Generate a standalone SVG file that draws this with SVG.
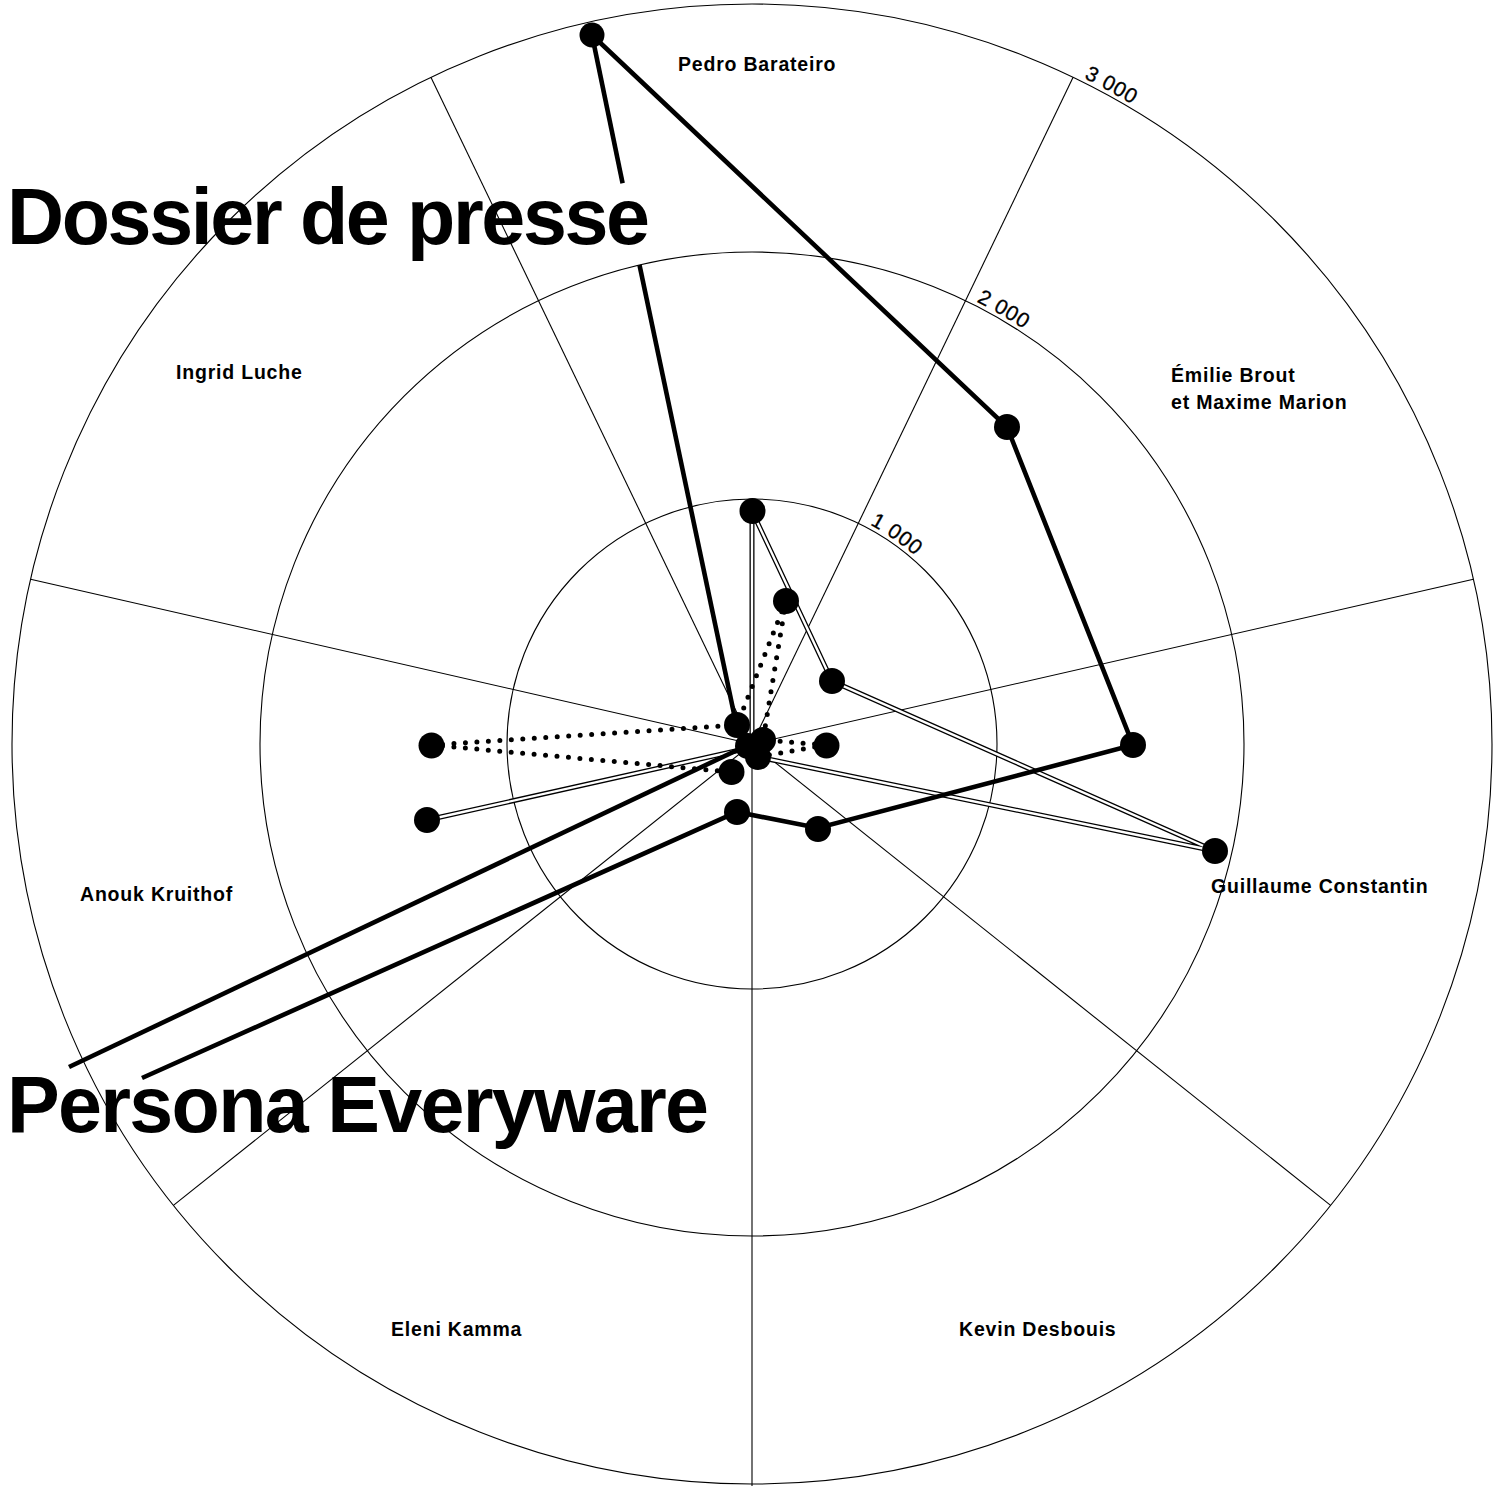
<svg xmlns="http://www.w3.org/2000/svg" width="1504" height="1486" viewBox="0 0 1504 1486">
<style>
.grid{fill:none;stroke:#000;stroke-width:1.1}
.thick{fill:none;stroke:#000;stroke-width:4.6;stroke-linecap:butt}
.dblo{fill:none;stroke:#000;stroke-width:5}
.dbli{fill:none;stroke:#fff;stroke-width:2.4}
.dot{fill:none;stroke:#000;stroke-width:5;stroke-linecap:round;stroke-dasharray:0 11.5}
.pt{fill:#000}
.lab{font-family:"Liberation Sans",Arial,sans-serif;font-weight:700;font-size:19.5px;letter-spacing:0.8px;fill:#000}
.scale{font-family:"Liberation Sans",Arial,sans-serif;font-size:21px;letter-spacing:0.6px;fill:#000;stroke:#000;stroke-width:0.3}
.title{font-family:"Liberation Sans",Arial,sans-serif;font-weight:700;font-size:79px;fill:#000}
</style>
<defs>
<path id="a1" d="M860,519.7 A249,249 0 0 1 986,658.8"/>
<path id="a2" d="M967.2,297.1 A496,496 0 0 1 1181.5,496"/>
<path id="a3" d="M1074.8,73.7 A744,744 0 0 1 1321.9,265.8"/>
</defs>
<rect width="1504" height="1486" fill="#fff"/>
<g id="grid">
<circle class="grid" cx="752" cy="744" r="245"/>
<circle class="grid" cx="752" cy="744" r="492"/>
<circle class="grid" cx="752" cy="744" r="740"/>
<line class="grid" x1="752" y1="744" x2="1073.1" y2="77.3"/>
<line class="grid" x1="752" y1="744" x2="1473.4" y2="579.3"/>
<line class="grid" x1="752" y1="744" x2="1330.6" y2="1205.4"/>
<line class="grid" x1="752" y1="744" x2="752" y2="1486"/>
<line class="grid" x1="752" y1="744" x2="173.4" y2="1205.4"/>
<line class="grid" x1="752" y1="744" x2="30.6" y2="579.3"/>
<line class="grid" x1="752" y1="744" x2="430.9" y2="77.3"/>
</g>
<g id="scale-labels">
<text class="scale"><textPath href="#a1" startOffset="11">1 000</textPath></text>
<text class="scale"><textPath href="#a2" startOffset="10">2 000</textPath></text>
<text class="scale"><textPath href="#a3" startOffset="10">3 000</textPath></text>
</g>
<g id="connectors">
<g id="series-double">
<polyline class="dblo" points="752,511 752,745"/>
<polyline class="dblo" points="752,511 832,681 1215,851 758,757"/>
<polyline class="dblo" points="427,820 749,748"/>
<polyline class="dbli" points="752,511 752,745"/>
<polyline class="dbli" points="752,511 832,681 1215,851 758,757"/>
<polyline class="dbli" points="427,820 749,748"/>
</g>
<g id="series-dotted">
<line class="dot" x1="786" y1="601" x2="737" y2="725"/>
<line class="dot" x1="786" y1="601" x2="763" y2="740"/>
<line class="dot" x1="826" y1="745" x2="763" y2="740"/>
<line class="dot" x1="826" y1="745" x2="758" y2="757"/>
<line class="dot" x1="431" y1="745" x2="737" y2="725"/>
<line class="dot" x1="431" y1="745" x2="731" y2="772"/>
</g>
<g id="series-thick">
<polyline class="thick" points="592,35 1007,427 1133,745 818,828 737,812 142,1078"/>
<line class="thick" x1="592" y1="35" x2="622.6" y2="183.3"/>
<line class="thick" x1="639.5" y1="265" x2="737" y2="728"/>
<line class="thick" x1="748" y1="745" x2="69" y2="1067"/>
</g>
</g>
<g id="points">
<circle class="pt" cx="592" cy="35" r="12.5"/>
<circle class="pt" cx="1007" cy="427" r="13"/>
<circle class="pt" cx="1133" cy="745" r="13"/>
<circle class="pt" cx="818" cy="829" r="13"/>
<circle class="pt" cx="737" cy="812" r="13"/>
<circle class="pt" cx="752.5" cy="511" r="13"/>
<circle class="pt" cx="786" cy="601" r="13"/>
<circle class="pt" cx="832" cy="681" r="13"/>
<circle class="pt" cx="1215" cy="851" r="13"/>
<circle class="pt" cx="826.5" cy="745.5" r="13"/>
<circle class="pt" cx="431.5" cy="745.5" r="13"/>
<circle class="pt" cx="427" cy="820" r="13"/>
<circle class="pt" cx="737" cy="725" r="13"/>
<circle class="pt" cx="748" cy="746" r="13"/>
<circle class="pt" cx="763" cy="740" r="13"/>
<circle class="pt" cx="758" cy="757" r="13"/>
<circle class="pt" cx="731.5" cy="772" r="13"/>
</g>
<g id="labels">
<text class="lab" x="678" y="71">Pedro Barateiro</text>
<text class="lab" x="1171" y="382">Émilie Brout</text>
<text class="lab" x="1171" y="409">et Maxime Marion</text>
<text class="lab" x="1211" y="893">Guillaume Constantin</text>
<text class="lab" x="959" y="1336">Kevin Desbouis</text>
<text class="lab" x="391" y="1336">Eleni Kamma</text>
<text class="lab" x="80" y="901">Anouk Kruithof</text>
<text class="lab" x="176" y="379">Ingrid Luche</text>
</g>
<g id="titles">
<text class="title" x="7" y="244" textLength="643" lengthAdjust="spacing">Dossier de presse</text>
<text class="title" x="7" y="1132" textLength="702" lengthAdjust="spacing">Persona Everyware</text>
</g>
</svg>
